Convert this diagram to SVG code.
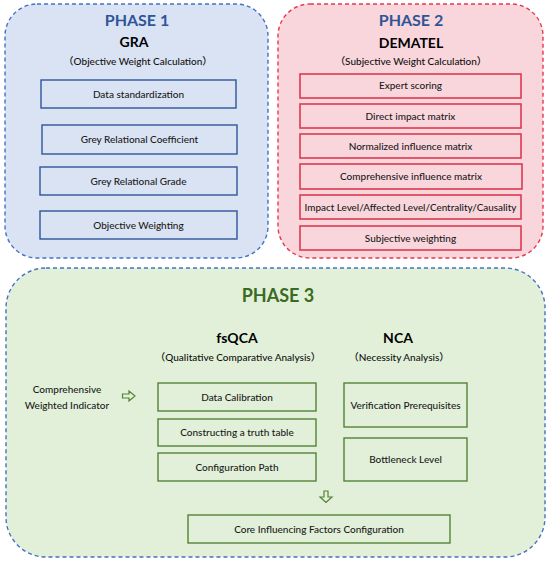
<svg xmlns="http://www.w3.org/2000/svg" width="550" height="565" viewBox="0 0 550 565">
<style>
text{font-family:Lato,"Liberation Sans","Noto Sans CJK SC",sans-serif;text-anchor:middle;fill:#1a1a1a}
.ph{font-weight:bold;font-size:16px}
.m{font-weight:bold;font-size:14px;fill:#000}
.sub{font-size:10px;fill:#111;font-weight:500}
.t{font-size:10px;fill:#1a1a1a;font-weight:500}
.o1{fill:#DAE3F3;stroke:#4472C4;stroke-width:1.4;stroke-dasharray:4 3}
.o2{fill:#F9D6DC;stroke:#E8384F;stroke-width:1.4;stroke-dasharray:4 3}
.o3{fill:#E2F0D9;stroke:#4472C4;stroke-width:1.4;stroke-dasharray:4 3}
.b1{fill:#DAE3F3;stroke:#2F5597;stroke-width:1.4}
.b2{fill:#F9D6DC;stroke:#DD3A52;stroke-width:1.6}
.b3{fill:#E2F0D9;stroke:#548235;stroke-width:1.4}
.arr{fill:#E2F0D9;stroke:#548235;stroke-width:1.2;stroke-linejoin:miter}
</style>
<g id="phase1">
<rect class="o1" x="5" y="4" width="263" height="254" rx="32"/>
<text class="ph" x="137" y="26" style="fill:#2F5597">PHASE 1</text>
<text class="m" x="134" y="47">GRA</text>
<text class="sub" x="138" y="65">（Objective Weight Calculation）</text>
</g>
<g id="p1-data-standardization"><rect class="b1" x="41" y="80" width="195" height="28"/><text class="t" x="138.5" y="97.5">Data standardization</text></g>
<g id="p1-grey-relational-coefficient"><rect class="b1" x="42" y="125" width="195" height="29"/><text class="t" x="139.5" y="143">Grey Relational Coefficient</text></g>
<g id="p1-grey-relational-grade"><rect class="b1" x="40" y="167" width="197" height="28"/><text class="t" x="138.5" y="185">Grey Relational Grade</text></g>
<g id="p1-objective-weighting"><rect class="b1" x="40" y="211" width="197" height="28"/><text class="t" x="138.5" y="229">Objective Weighting</text></g>

<g id="phase2">
<rect class="o2" x="278" y="4" width="265" height="254" rx="32"/>
<text class="ph" x="411" y="26" style="fill:#2F5597">PHASE 2</text>
<text class="m" x="411" y="48">DEMATEL</text>
<text class="sub" x="411" y="65">（Subjective Weight Calculation）</text>
</g>
<g id="p2-expert-scoring"><rect class="b2" x="300" y="74" width="221" height="24"/><text class="t" x="410.5" y="89">Expert scoring</text></g>
<g id="p2-direct-impact-matrix"><rect class="b2" x="300" y="104" width="221" height="24"/><text class="t" x="410.5" y="119.5">Direct impact matrix</text></g>
<g id="p2-normalized-influence-matrix"><rect class="b2" x="300" y="134" width="221" height="24"/><text class="t" x="410.5" y="149.5">Normalized influence matrix</text></g>
<g id="p2-comprehensive-influence-matrix"><rect class="b2" x="300" y="164" width="222" height="25"/><text class="t" x="411" y="179.5">Comprehensive influence matrix</text></g>
<g id="p2-impact-level"><rect class="b2" x="300" y="195" width="221" height="24"/><text class="t" x="410.5" y="210.5" textLength="212" lengthAdjust="spacingAndGlyphs">Impact Level/Affected Level/Centrality/Causality</text></g>
<g id="p2-subjective-weighting"><rect class="b2" x="300" y="226" width="221" height="24"/><text class="t" x="410.5" y="241.5">Subjective weighting</text></g>

<g id="phase3">
<rect class="o3" x="6" y="268" width="539" height="289" rx="40"/>
<text class="ph" x="278" y="302" style="fill:#3A6B22;font-size:18px">PHASE 3</text>
<text class="m" x="237" y="343">fsQCA</text>
<text class="sub" x="238" y="361">（Qualitative Comparative Analysis）</text>
<text class="m" x="398" y="343">NCA</text>
<text class="sub" x="399" y="361">（Necessity Analysis）</text>
</g>
<g id="comprehensive-weighted-indicator">
<text class="t" x="67" y="393">Comprehensive</text>
<text class="t" x="67" y="409">Weighted Indicator</text>
</g>
<g id="fs-data-calibration"><rect class="b3" x="158" y="383" width="158" height="28"/><text class="t" x="237" y="400.5">Data Calibration</text></g>
<g id="fs-truth-table"><rect class="b3" x="158" y="419" width="158" height="27"/><text class="t" x="237" y="436">Constructing a truth table</text></g>
<g id="fs-configuration-path"><rect class="b3" x="158" y="453" width="158" height="28"/><text class="t" x="237" y="470.5">Configuration Path</text></g>
<g id="nca-verification"><rect class="b3" x="344" y="383" width="123" height="44"/><text class="t" x="405.5" y="408.5">Verification Prerequisites</text></g>
<g id="nca-bottleneck"><rect class="b3" x="344" y="438" width="123" height="43"/><text class="t" x="405.5" y="463">Bottleneck Level</text></g>
<g id="core-configuration"><rect class="b3" x="188" y="515" width="262" height="28"/><text class="t" x="319" y="532.5">Core Influencing Factors Configuration</text></g>

<g id="connectors">
<path class="arr" d="M122.5,394 H129 V391 L135,396 L129,401 V398 H122.5 Z"/>
<path class="arr" d="M324,491 H328 V497 H332 L326,502.5 L320,497 H324 Z"/>
</g>
</svg>
